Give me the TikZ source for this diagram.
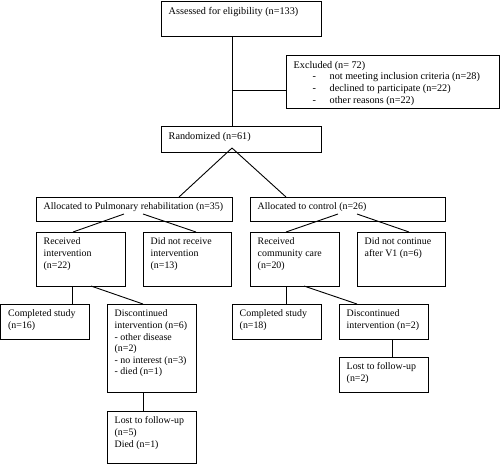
\documentclass[tikz,border=0pt]{standalone}
\usepackage{fontspec}
\setmainfont{Liberation Serif}
\usetikzlibrary{calc}
\newcommand\fbx[7][tx]{%
  \node[bx, anchor=north west, minimum width={(#5-#3)*1pt}, minimum height={(#6-#4)*1pt}] (#2) at (#3,#4) {};
  \node[#1] (#2t) at ([shift={(7.5pt,-5.8pt)}]#2.north west) {#7};}
\newcommand\exl[1]{\makebox[36pt][l]{\hspace*{19pt}-}#1}
\begin{document}
\begin{tikzpicture}[x=1pt,y=-1pt,
  bx/.style={draw, line width=0.9pt, inner sep=0pt, outer sep=0pt},
  tx/.style={inner sep=0pt, align=left, anchor=north west, font=\fontsize{9.9}{11.6}\selectfont},
  ctx/.style={tx, font=\fontsize{10.2}{11.7}\selectfont},
  ln/.style={line width=0.9pt}]
\useasboundingbox (0,0) rectangle (500,464);
\fbx[ctx]{assess}{161}{1}{321}{36}{Assessed for eligibility (n=133)}
\fbx[ctx]{excl}{286}{55}{499.4}{108}{Excluded (n= 72)\\\exl{not meeting inclusion criteria (n=28)}\\\exl{declined to participate (n=22)}\\\exl{other reasons (n=22)}}
\fbx[ctx]{rand}{161}{126}{321}{152}{Randomized (n=61)}
\fbx{allocPR}{36}{197}{232}{221}{Allocated to Pulmonary rehabilitation (n=35)}
\fbx{allocC}{250}{197}{445}{221}{Allocated to control (n=26)}
\fbx{recPR}{36}{232}{125}{286}{Received\\intervention\\(n=22)}
\fbx{notPR}{143}{232}{231}{286}{Did not receive\\intervention\\(n=13)}
\fbx{recC}{250}{232}{339}{286}{Received\\community care\\(n=20)}
\fbx{notC}{357}{232}{445}{286}{Did not continue\\after V1 (n=6)}
\fbx{compPR}{0.5}{304}{89}{339}{Completed study\\(n=16)}
\fbx{discPR}{107}{304}{196}{392}{Discontinued\\intervention (n=6)\\- other disease\\(n=2)\\- no interest (n=3)\\- died (n=1)}
\fbx{lostPR}{107}{411}{196}{463.2}{Lost to follow-up\\(n=5)\\Died (n=1)}
\fbx{compC}{232}{304}{321}{339}{Completed study\\(n=18)}
\fbx{discC}{339}{304}{428}{339}{Discontinued\\intervention (n=2)}
\fbx{lostC}{339}{357}{428}{392}{Lost to follow-up\\(n=2)}
% connectors
\coordinate (vx) at ([xshift=71pt]rand.north west);
\draw[ln] ([xshift=71pt]assess.south west) -- (vx);
\coordinate (ej) at ([yshift=18pt]excl.south west);
\draw[ln] (ej) -- (ej -| vx);
\coordinate (ra) at ([xshift=71pt,yshift=4pt]rand.south west);
\draw[ln] (ra) -- ([xshift=143pt]allocPR.north west);
\draw[ln] (ra) -- ([xshift=36pt]allocC.north west);
\draw[ln] ([xshift=88pt,yshift=7pt]allocPR.south west) -- ([xshift=37pt]recPR.north west);
\draw[ln] ([xshift=107pt,yshift=7pt]allocPR.south west) -- ([xshift=53pt]notPR.north west);
\draw[ln] ([xshift=88pt,yshift=7pt]allocC.south west) -- ([xshift=36pt]recC.north west);
\draw[ln] ([xshift=107pt,yshift=7pt]allocC.south west) -- ([xshift=52pt]notC.north west);
\draw[ln] ([xshift=36pt]recPR.south west) -- ([xshift=71.5pt]compPR.north west);
\draw[ln] ([xshift=55pt]recPR.south west) -- ([xshift=36pt]discPR.north west);
\draw[ln] ([xshift=36pt]discPR.south west) -- ([xshift=36pt]lostPR.north west);
\draw[ln] ([xshift=36pt]recC.south west) -- ([xshift=54pt]compC.north west);
\draw[ln] ([xshift=54pt]recC.south west) -- ([xshift=18pt]discC.north west);
\draw[ln] ([xshift=53pt]discC.south west) -- ([xshift=53pt]lostC.north west);
\end{tikzpicture}
\end{document}
